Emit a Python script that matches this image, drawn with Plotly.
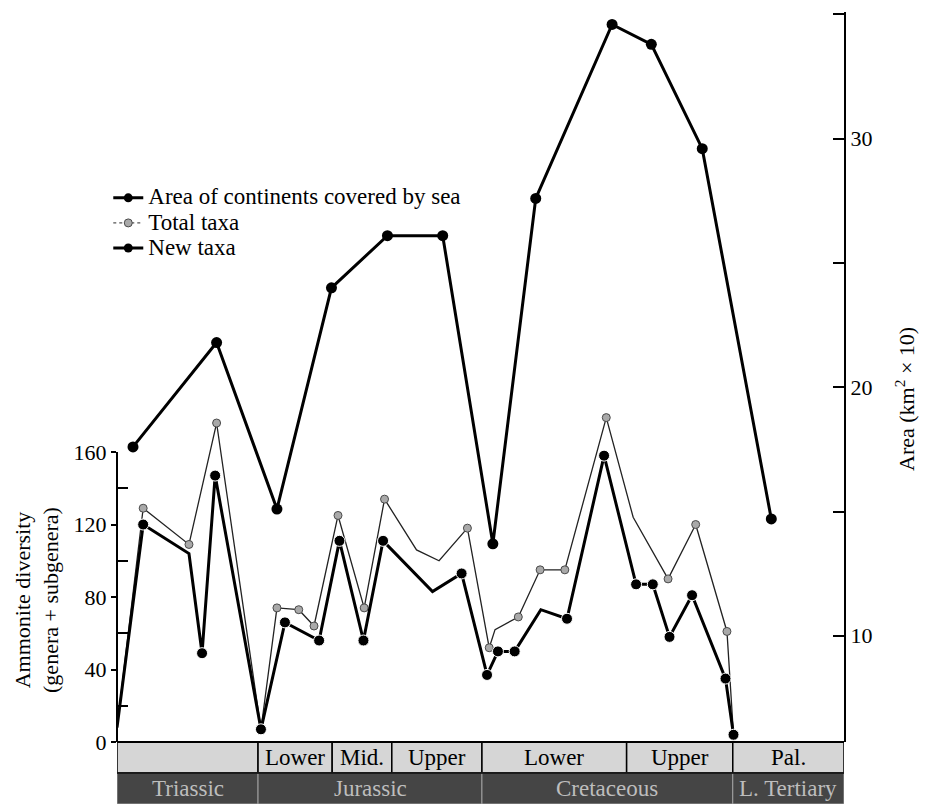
import plotly.graph_objects as go

# ---- data (x = relative position along the time scale, 0..100) ----
stage_bounds = [0, 19.4, 29.6, 37.8, 50.2, 70.1, 84.7, 100]
stage_labels = ["", "Lower", "Mid.", "Upper", "Lower", "Upper", "Pal."]
period_bounds = [0, 19.4, 50.2, 84.7, 100]
period_labels = ["Triassic", "Jurassic", "Cretaceous", "L. Tertiary"]

area_x = [2.2, 13.7, 22.0, 29.5, 37.2, 44.8, 51.7, 57.6, 68.1, 73.5, 80.5, 90.0]
area_y = [17.6, 21.8, 15.1, 24.0, 26.1, 26.1, 13.7, 27.6, 34.6, 33.8, 29.6, 14.7]

total_x = [0, 3.6, 9.9, 13.7, 19.8, 22.0, 25.0, 27.1, 30.4, 34.0, 36.8, 41.2, 44.3,
           48.2, 51.2, 52.0, 55.2, 58.2, 61.6, 67.3, 71.0, 75.8, 79.6, 83.9, 84.8]
total_y = [8, 129, 109, 176, 7, 74, 73, 64, 125, 74, 134, 106, 100,
           118, 52, 62, 69, 95, 95, 179, 124, 90, 120, 61, 4]
total_marked = [0, 1, 1, 1, 1, 1, 1, 1, 1, 1, 1, 0, 0,
                1, 1, 0, 1, 1, 1, 1, 0, 1, 1, 1, 1]

new_x = [0, 3.6, 9.9, 11.7, 13.5, 19.8, 23.1, 27.8, 30.6, 33.9, 36.6, 43.4, 47.4,
         50.9, 52.4, 54.7, 58.3, 61.9, 67.0, 71.4, 73.7, 76.0, 79.1, 83.7, 84.8]
new_y = [8, 120, 104, 49, 147, 7, 66, 56, 111, 56, 111, 83, 93,
         37, 50, 50, 73, 68, 158, 87, 87, 58, 81, 35, 4]
new_marked = [0, 1, 0, 1, 1, 1, 1, 1, 1, 1, 1, 0, 1,
              1, 1, 1, 0, 1, 1, 1, 1, 1, 1, 1, 1]

left_ticks = [0, 40, 80, 120, 160]
left_minor = [20, 60, 100, 140]
right_ticks = [10, 20, 30]
right_minor = [15, 25, 35]

legend_names = ["Area of continents covered by sea", "Total taxa", "New taxa"]

FONT = "Liberation Serif"
FS = 22
BLACK_MS = 11
GRAY_MS = 8

fig = go.Figure()

# Total taxa
fig.add_trace(go.Scatter(
    x=total_x, y=total_y, mode="lines+markers", showlegend=False,
    line=dict(color="#222222", width=1.3),
    marker=dict(size=[GRAY_MS if m else 0 for m in total_marked], color="#a9a9a9",
                opacity=1, line=dict(color="#4a4a4a", width=1)),
))
# New taxa
fig.add_trace(go.Scatter(
    x=new_x, y=new_y, mode="lines+markers", showlegend=False,
    line=dict(color="black", width=3),
    marker=dict(size=[BLACK_MS if m else 0 for m in new_marked], color="black", opacity=1),
))
# Area (right axis)
fig.add_trace(go.Scatter(
    x=area_x, y=area_y, mode="lines+markers", showlegend=False, yaxis="y2",
    line=dict(color="black", width=3),
    marker=dict(size=BLACK_MS, color="black", opacity=1),
))


def leg(name):
    return '<span style="font-size:23px">' + name + "</span>"


# legend entries
fig.add_trace(go.Scatter(x=[None], y=[None], mode="lines+markers", name=leg(legend_names[0]),
                         line=dict(color="black", width=3), marker=dict(size=9, color="black")))
fig.add_trace(go.Scatter(x=[None], y=[None], mode="lines+markers", name=leg(legend_names[1]),
                         line=dict(color="#555555", width=1.3, dash="dot"),
                         marker=dict(size=8, color="#a9a9a9", line=dict(color="#4a4a4a", width=1))))
fig.add_trace(go.Scatter(x=[None], y=[None], mode="lines+markers", name=leg(legend_names[2]),
                         line=dict(color="black", width=3), marker=dict(size=9, color="black")))

shapes = []
annotations = []
top_y0, top_y1 = -31 / 730, 0
bot_y0, bot_y1 = -62 / 730, -31 / 730

# bands
for i in range(len(stage_labels)):
    shapes.append(dict(type="rect", xref="x", yref="paper",
                       x0=stage_bounds[i], x1=stage_bounds[i + 1], y0=top_y0, y1=top_y1,
                       fillcolor="#d6d6d6", line=dict(color="black", width=1.5), layer="below"))
    if stage_labels[i]:
        annotations.append(dict(xref="x", yref="paper",
                                x=(stage_bounds[i] + stage_bounds[i + 1]) / 2,
                                y=(top_y0 + top_y1) / 2, text=stage_labels[i], showarrow=False,
                                font=dict(family=FONT, size=23, color="black"),
                                xanchor="center", yanchor="middle"))
for i in range(len(period_labels)):
    shapes.append(dict(type="rect", xref="x", yref="paper",
                       x0=period_bounds[i], x1=period_bounds[i + 1], y0=bot_y0, y1=bot_y1,
                       fillcolor="#454545", line=dict(color="#a0a0a0", width=1), layer="below"))
    annotations.append(dict(xref="x", yref="paper",
                            x=(period_bounds[i] + period_bounds[i + 1]) / 2,
                            y=(bot_y0 + bot_y1) / 2, text=period_labels[i], showarrow=False,
                            font=dict(family=FONT, size=23, color="#bdbdbd"),
                            xanchor="center", yanchor="middle"))
# band outline
shapes.append(dict(type="line", xref="paper", yref="paper", x0=0, x1=1, y0=0, y1=0,
                   line=dict(color="black", width=2)))
shapes.append(dict(type="line", xref="paper", yref="paper", x0=0, x1=1, y0=top_y0, y1=top_y0,
                   line=dict(color="black", width=1.5)))
# left axis line (0..160 only)
shapes.append(dict(type="line", xref="paper", yref="y", x0=0, x1=0,
                   y0=left_ticks[0], y1=left_ticks[-1], line=dict(color="black", width=2)))

annotations.append(dict(xref="paper", yref="paper", x=-0.111, y=0.195,
                        text="Ammonite diversity<br>(genera + subgenera)", textangle=-90,
                        showarrow=False, font=dict(family=FONT, size=FS, color="black"),
                        xanchor="center", yanchor="middle"))
annotations.append(dict(xref="paper", yref="paper", x=1.084, y=0.47,
                        text="Area (km<sup>2</sup> × 10)", textangle=-90,
                        showarrow=False, font=dict(family=FONT, size=FS, color="black"),
                        xanchor="center", yanchor="middle"))

# the page body adds an 8 px offset; the figure is sized to fill the window from there
fig.update_layout(
    width=919, height=796,
    margin=dict(l=109, r=83, t=4, b=62, autoexpand=False),
    paper_bgcolor="white", plot_bgcolor="white",
    font=dict(family=FONT, size=FS, color="black"),
    showlegend=True,
    legend=dict(x=-0.012, y=0.7695, xanchor="left", yanchor="top",
                bgcolor="rgba(0,0,0,0)", font=dict(family=FONT, size=17, color="black"),
                tracegroupgap=0, itemwidth=30),
    xaxis=dict(range=[0, 100], visible=False, showgrid=False, zeroline=False),
    yaxis=dict(range=[0, 402.8], tickvals=left_ticks, ticks="outside", ticklen=5,
               tickwidth=2, tickcolor="black", showgrid=False, zeroline=False,
               showline=False, tickfont=dict(family=FONT, size=FS, color="black"),
               minor=dict(tickvals=left_minor, ticks="inside", ticklen=11,
                          tickwidth=2, tickcolor="black", showgrid=False)),
    yaxis2=dict(range=[5.726, 35.10], overlaying="y", side="right",
                tickvals=right_ticks, ticks="inside", ticklen=11, tickwidth=2,
                tickcolor="black", showline=True, linecolor="black", linewidth=2,
                showgrid=False, zeroline=False,
                tickfont=dict(family=FONT, size=FS, color="black"),
                minor=dict(tickvals=right_minor, ticks="inside", ticklen=11,
                           tickwidth=2, tickcolor="black", showgrid=False)),
    shapes=shapes,
    annotations=annotations,
)

fig.write_html("out.html")
